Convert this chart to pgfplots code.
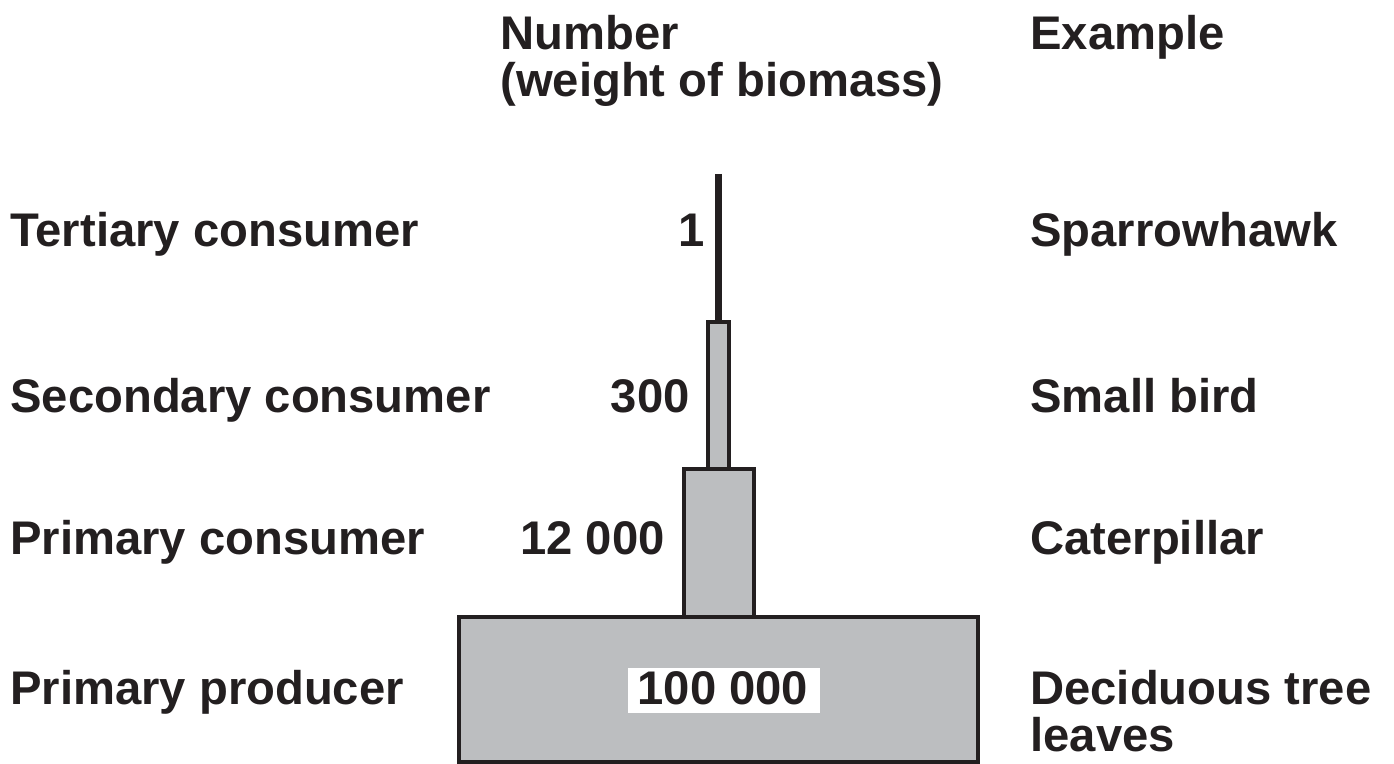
\documentclass[border=0pt]{standalone}
\usepackage{pgfplots}
\pgfplotsset{compat=1.18}
\usepackage{fontspec}
\setmainfont{Liberation Sans}
\definecolor{barfill}{HTML}{BCBEC0}
\definecolor{ink}{HTML}{231F20}
\tikzset{lbl/.style={font=\fontsize{23.6}{24}\selectfont\bfseries, text=ink, inner sep=0pt}}
\begin{document}
\begin{tikzpicture}
\begin{axis}[
  scale only axis, width=697pt, height=382pt,
  xmin=0, xmax=1394, ymin=0, ymax=764, y dir=reverse,
  hide axis, clip=false,
]
\path[draw=none] (rel axis cs:0,0) rectangle (rel axis cs:1,1);
% Primary producer
\addplot[draw=ink, line width=1.7pt, fill=barfill] coordinates {(459,617) (978,617) (978,762) (459,762)} -- cycle;
% Primary consumer
\addplot[draw=ink, line width=1.7pt, fill=barfill] coordinates {(684,469) (754,469) (754,617) (684,617)} -- cycle;
% Secondary consumer
\addplot[draw=ink, line width=1.7pt, fill=barfill] coordinates {(708,322) (729,322) (729,469) (708,469)} -- cycle;
% Tertiary consumer
\addplot[draw=ink, line width=3.2pt] coordinates {(718.5,174) (718.5,322)};

\node[lbl, anchor=base west] at (axis cs:500,50) {Number};
\node[lbl, anchor=base west] at (axis cs:500,97) {(weight of biomass)};
\node[lbl, anchor=base west] at (axis cs:1030,50) {Example};

\node[lbl, anchor=base west] at (axis cs:10,247) {Tertiary consumer};
\node[lbl, anchor=base west] at (axis cs:10,413) {Secondary consumer};
\node[lbl, anchor=base west] at (axis cs:10,555) {Primary consumer};
\node[lbl, anchor=base west] at (axis cs:10,705) {Primary producer};

\node[lbl, anchor=base east] at (axis cs:705,247) {1};
\node[lbl, anchor=base east] at (axis cs:690,413) {300};
\node[lbl, anchor=base east] at (axis cs:665,555) {12 000};
\node[fill=white, inner sep=0pt, minimum width=96pt, minimum height=22.5pt] at (axis cs:724,690.5) {};
\node[lbl, anchor=base] at (axis cs:723,705) {100 000};

\node[lbl, anchor=base west] at (axis cs:1030,247) {Sparrowhawk};
\node[lbl, anchor=base west] at (axis cs:1030,413) {Small bird};
\node[lbl, anchor=base west] at (axis cs:1030,555) {Caterpillar};
\node[lbl, anchor=base west] at (axis cs:1030,705) {Deciduous tree};
\node[lbl, anchor=base west] at (axis cs:1030,752) {leaves};
\end{axis}
\end{tikzpicture}
\end{document}
